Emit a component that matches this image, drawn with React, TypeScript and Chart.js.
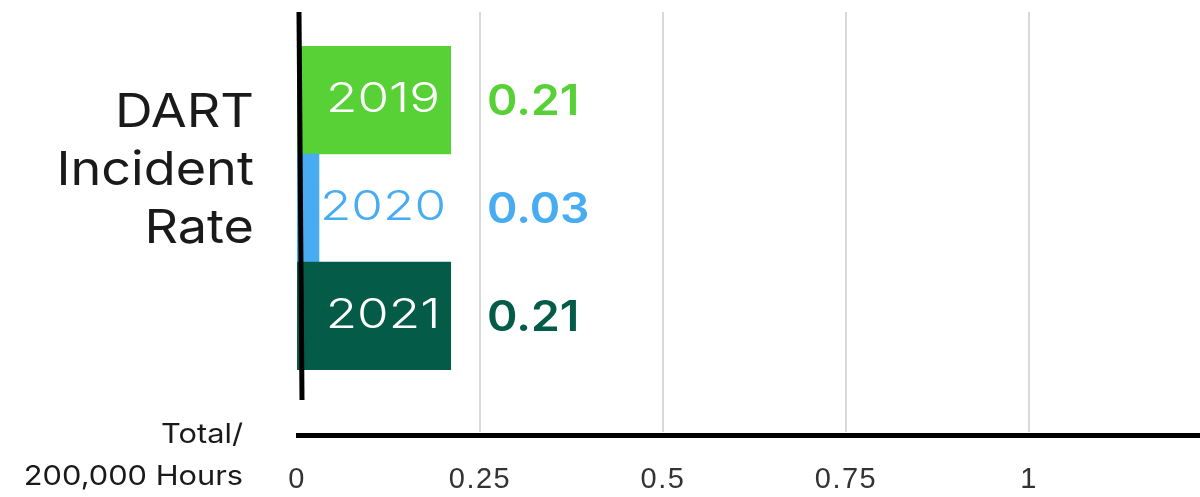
import React, { useEffect, useRef } from "react";
import { Chart, registerables } from "chart.js";

Chart.register(...registerables);

const years = ["2019", "2020", "2021"];
const rates = [0.21, 0.03, 0.21];
const rateLabels = ["0.21", "0.03", "0.21"];
const barColors = ["#57d135", "#47acf1", "#035b48"];
const yearLabelColors = ["#ffffff", "#47acf1", "#ffffff"];
const xTickValues = [0, 0.25, 0.5, 0.75, 1];
const xMax = 1.2336;
const titleLines = ["DART", "Incident", "Rate"];
const unitLines = ["Total/", "200,000 Hours"];

function wideText(ctx: CanvasRenderingContext2D, text: string, x: number, y: number, sx: number, align: CanvasTextAlign) {
  ctx.save();
  ctx.translate(x, y);
  ctx.scale(sx, 1);
  ctx.textAlign = align;
  ctx.fillText(text, 0, 0);
  ctx.restore();
}

export default function App() {
  const ref = useRef<HTMLCanvasElement>(null);

  useEffect(() => {
    if (!ref.current) return;

    const overlay = {
      id: "overlay",
      beforeDraw(chart: any) {
        (chart.ctx as any).letterSpacing = "1.5px";
      },
      beforeDatasetsDraw(chart: any) {
        const ctx = chart.ctx;
        const xs = chart.scales.x;
        ctx.save();
        ctx.strokeStyle = "#d9d9d9";
        ctx.lineWidth = 2;
        xTickValues.forEach((t) => {
          if (t === 0) return;
          const px = Math.round(xs.getPixelForValue(t));
          ctx.beginPath();
          ctx.moveTo(px, 12);
          ctx.lineTo(px, 432);
          ctx.stroke();
        });
        ctx.strokeStyle = "#000000";
        ctx.lineWidth = 5;
        ctx.beginPath();
        ctx.moveTo(296, 435.5);
        ctx.lineTo(1200, 435.5);
        ctx.stroke();
        ctx.restore();
      },
      afterDatasetsDraw(chart: any) {
        const ctx = chart.ctx as CanvasRenderingContext2D;
        const xs = chart.scales.x;
        const ys = chart.scales.y;
        const x0 = xs.getPixelForValue(0);
        ctx.save();
        (ctx as any).letterSpacing = "0px";
        // vertical axis stroke
        ctx.strokeStyle = "#000000";
        ctx.lineWidth = 5;
        ctx.beginPath();
        ctx.moveTo(x0 + 2, 12);
        ctx.lineTo(x0 + 5, 400);
        ctx.stroke();

        // year labels and values
        ctx.textBaseline = "middle";
        years.forEach((yr, i) => {
          const py = ys.getPixelForValue(i);
          ctx.font = "300 41px Inter";
          ctx.fillStyle = yearLabelColors[i];
          wideText(ctx, yr, x0 + 86, py, 1.25, "center");
          ctx.font = "600 42px Inter";
          ctx.fillStyle = barColors[i];
          wideText(ctx, rateLabels[i], x0 + 190, py + 2, 1.1, "left");
        });

        // title
        ctx.fillStyle = "#1a1a1a";
        ctx.font = "400 47px Inter";
        titleLines.forEach((l, i) => {
          wideText(ctx, l, 254, 113 + i * 58, 1.11, "right");
        });
        ctx.font = "400 27px Inter";
        unitLines.forEach((l, i) => {
          wideText(ctx, l, 243, 435 + i * 42, 1.14, "right");
        });
        ctx.restore();
      },
      afterDraw(chart: any) {
        (chart.ctx as any).letterSpacing = "0px";
      },
    };

    const chart = new Chart(ref.current, {
      type: "bar",
      data: {
        labels: years,
        datasets: [
          {
            data: rates,
            backgroundColor: barColors,
            borderWidth: 0,
            barPercentage: 1,
            categoryPercentage: 1,
          },
        ],
      },
      options: {
        indexAxis: "y",
        animation: false,
        responsive: true,
        maintainAspectRatio: false,
        layout: { padding: { top: 46, left: 297, right: 0, bottom: 0 } },
        plugins: {
          legend: { display: false },
          tooltip: { enabled: false },
          title: { display: false },
        },
        scales: {
          y: {
            type: "category",
            display: false,
          },
          x: {
            type: "linear",
            min: 0,
            max: xMax,
            grid: { display: false, drawTicks: false },
            border: { display: false },
            afterBuildTicks: (scale: any) => {
              scale.ticks = xTickValues.map((v) => ({ value: v }));
            },
            afterFit: (scale: any) => {
              scale.height = 127;
            },
            ticks: {
              padding: 93,
              maxRotation: 0,
              autoSkip: false,
              color: "#333333",
              font: { family: "Liberation Sans", size: 29 },
              callback: (v: any) => String(v),
            },
          },
        },
      },
      plugins: [overlay],
    });

    return () => chart.destroy();
  }, []);

  return (
    <div style={{ position: "absolute", left: 0, top: 0, width: 1200, height: 497, background: "#ffffff" }}>
      <canvas ref={ref} />
    </div>
  );
}
